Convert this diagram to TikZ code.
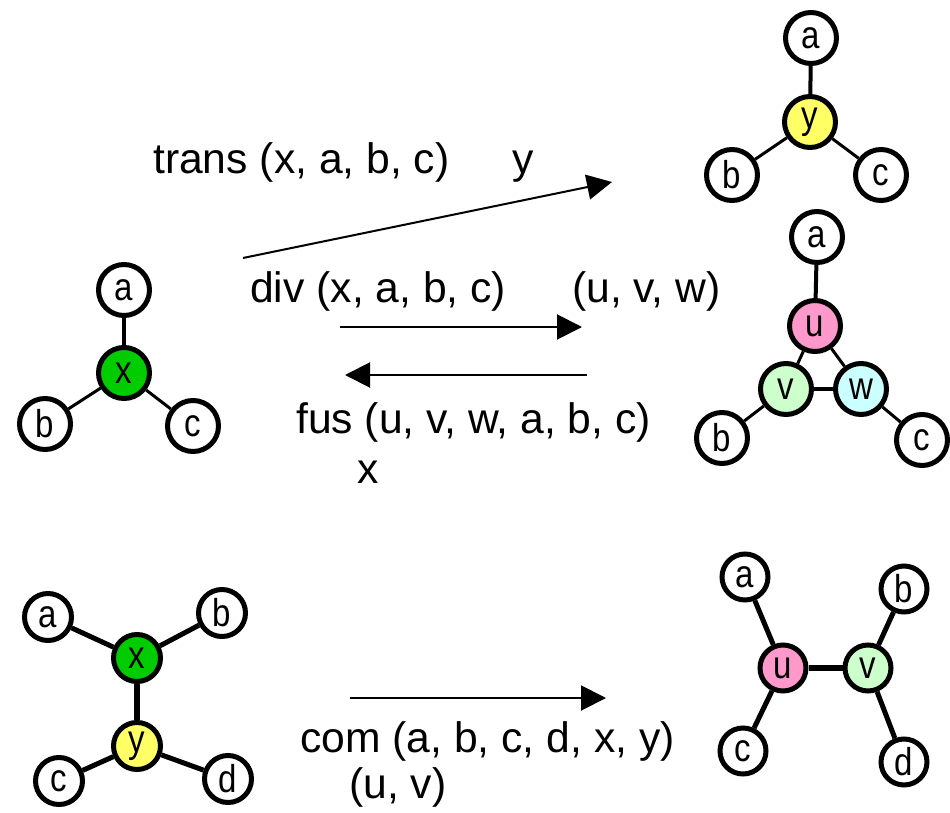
\documentclass[tikz,border=0pt]{standalone}
\usepackage{fontspec}
\setmainfont{Liberation Sans}
\newfontfamily\nodefont[FakeStretch=0.85]{Liberation Sans}
\usetikzlibrary{arrows.meta,backgrounds}
\definecolor{xgreen}{RGB}{0,204,0}
\definecolor{yyellow}{RGB}{255,255,102}
\definecolor{upink}{RGB}{255,153,204}
\definecolor{vgreen}{RGB}{204,255,204}
\definecolor{wcyan}{RGB}{204,255,255}
\begin{document}
\begin{tikzpicture}[x=1bp,y=-1bp,
  vert/.style={circle, draw=black, line width=5bp, minimum size=51bp, inner sep=0pt, fill=white,
    font=\nodefont\fontsize{39}{39}\selectfont},
  smallvert/.style={vert, minimum size=47bp},
  tinyvert/.style={vert, minimum size=46bp},
  lbl/.style={anchor=base west, inner sep=0pt, font=\fontsize{42.8}{50}\selectfont},
  thinedge/.style={line width=3bp},
  midedge/.style={line width=4bp},
  bigedge/.style={line width=5bp},
  boldedge/.style={line width=6.5bp},
  trarrow/.style={line width=2bp, -{Triangle[length=25bp,width=25bp]}}
]
\useasboundingbox (0,0) rectangle (950,813);

% top-right graph (trans result)
\node[vert] (ta) at (811,38) {a};
\node[vert, fill=yyellow] (ty) at (810,122) {y};
\node[vert] (tb) at (732,175) {b};
\node[vert] (tc) at (881,175) {c};

% middle-right graph (div result)
\node[vert] (ma) at (817,237) {a};
\node[vert, fill=upink] (mu) at (815,326) {u};
\node[vert, fill=vgreen] (mv) at (786,389) {v};
\node[vert, fill=wcyan] (mw) at (861,389) {w};
\node[vert] (mb) at (722,438) {b};
\node[vert] (mc) at (922,440) {c};

% left graph
\node[vert] (la) at (124,290) {a};
\node[vert, fill=xgreen] (lx) at (124,373) {x};
\node[vert] (lb) at (45,424) {b};
\node[vert] (lc) at (193,426) {c};

% bottom-left graph
\node[smallvert] (ba) at (48,617) {a};
\node[smallvert] (bb) at (222,613) {b};
\node[smallvert, fill=xgreen] (bx) at (137,658) {x};
\node[smallvert, fill=yyellow] (by) at (137,746) {y};
\node[smallvert] (bc) at (59,781) {c};
\node[smallvert] (bd) at (228,779) {d};

% bottom-right graph
\node[tinyvert] (ra) at (745,577) {a};
\node[tinyvert] (rb) at (904,589) {b};
\node[tinyvert, fill=upink] (ru) at (783,668) {u};
\node[tinyvert, fill=vgreen] (rv) at (868,668) {v};
\node[tinyvert] (rc) at (743,751) {c};
\node[tinyvert] (rd) at (904,762) {d};

\begin{pgfonlayer}{background}
  \draw[midedge] (ta) -- (ty);
  \draw[thinedge] (tb) -- (ty);
  \draw[thinedge] (tc) -- (ty);

  \draw[midedge] (ma) -- (mu);
  \draw[thinedge] (mu) -- (mv);
  \draw[thinedge] (mu) -- (mw);
  \draw[midedge] (mv) -- (mw);
  \draw[thinedge] (mb) -- (mv);
  \draw[thinedge] (mc) -- (mw);

  \draw[midedge] (la) -- (lx);
  \draw[thinedge] (lb) -- (lx);
  \draw[thinedge] (lc) -- (lx);

  \draw[bigedge] (ba) -- (bx);
  \draw[bigedge] (bb) -- (bx);
  \draw[boldedge] (bx) -- (by);
  \draw[bigedge] (bc) -- (by);
  \draw[bigedge] (bd) -- (by);

  \draw[bigedge] (ra) -- (ru);
  \draw[bigedge] (rc) -- (ru);
  \draw[boldedge] (ru) -- (rv);
  \draw[bigedge] (rb) -- (rv);
  \draw[bigedge] (rd) -- (rv);
\end{pgfonlayer}

% arrows
\coordinate (t0) at (243,258);
\coordinate (t1) at (612,182);
\draw[trarrow] (t0) -- (t1);
\coordinate (d0) at (340,327);
\coordinate (d1) at (582,327);
\draw[trarrow] (d0) -- (d1);
\coordinate (f0) at (587,375);
\coordinate (f1) at (345,375);
\draw[trarrow] (f0) -- (f1);
\coordinate (c0) at (350,698);
\coordinate (c1) at (606,698);
\draw[trarrow] (c0) -- (c1);

% labels
\node[lbl] (l1) at (153,173) {trans (x, a, b, c)};
\node[lbl] (l2) at (512,173) {y};
\node[lbl] (l3) at (250,302) {div (x, a, b, c)};
\node[lbl] (l4) at (572,302) {(u, v, w)};
\node[lbl] (l5) at (296,433) {fus (u, v, w, a, b, c)};
\node[lbl] (l6) at (357,483) {x};
\node[lbl] (l7) at (300,752) {com (a, b, c, d, x, y)};
\node[lbl] (l8) at (349,798) {(u, v)};
\end{tikzpicture}
\end{document}
